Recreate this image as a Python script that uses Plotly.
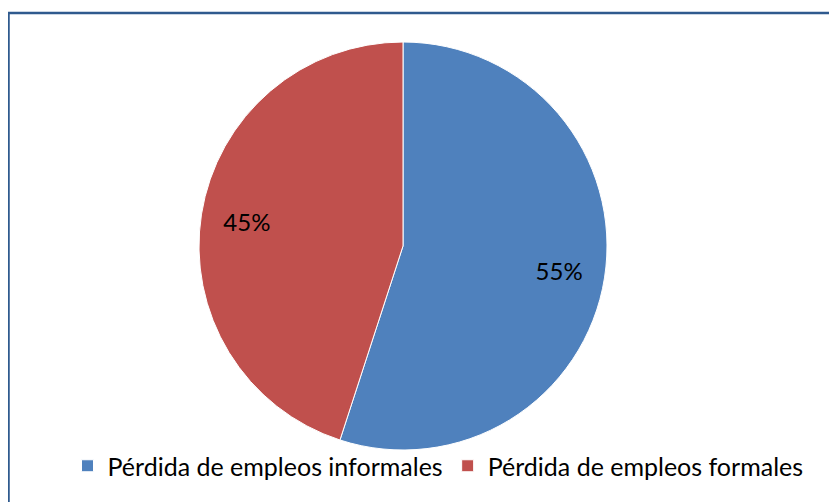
import plotly.graph_objects as go

labels = ["Pérdida de empleos informales", "Pérdida de empleos formales"]
values = [55, 45]
colors = ["#4F81BD", "#C0504D"]

# page body has an 8px margin, so the figure is drawn 8px in from the window edge
OFF = 8
W, H = 837 - OFF, 502 - OFF
cx, cy, r = 403 - OFF, 246 - OFF, 204

dom = dict(x=[(cx - r) / W, (cx + r) / W], y=[(H - cy - r) / H, (H - cy + r) / H])

fig = go.Figure()
fig.add_trace(go.Pie(
    labels=labels,
    values=values,
    sort=False,
    direction="clockwise",
    rotation=0,
    marker=dict(colors=colors, line=dict(color="white", width=1)),
    textinfo="none",
    domain=dom,
))
# transparent ring used only to place the percentage labels further out
fig.add_trace(go.Pie(
    labels=labels,
    values=values,
    sort=False,
    direction="clockwise",
    rotation=0,
    hole=0.55,
    marker=dict(colors=["rgba(0,0,0,0)", "rgba(0,0,0,0)"], line=dict(width=0)),
    texttemplate="%{percent:.0%}",
    textposition="inside",
    insidetextorientation="horizontal",
    textfont=dict(family="Lato", size=24, color="black"),
    showlegend=False,
    hoverinfo="skip",
    domain=dom,
))

fig.update_layout(
    width=W, height=H,
    margin=dict(l=0, r=0, t=0, b=0),
    paper_bgcolor="white",
    font=dict(family="Lato", color="black"),
    showlegend=True,
    legend=dict(
        orientation="h", x=(438 - OFF) / W, xanchor="center", y=(H - (466 - OFF)) / H, yanchor="middle",
        font=dict(family="Lato", size=25, color="black"),
        bgcolor="rgba(0,0,0,0)",
        traceorder="normal",
    ),
    shapes=[dict(type="rect", xref="paper", yref="paper",
                 x0=0.5 / W, x1=1.2, y0=-0.2, y1=1 - 5 / H,
                 line=dict(color="#2F5A8E", width=2.5), fillcolor="rgba(0,0,0,0)")],
)

fig.write_html("out.html")
